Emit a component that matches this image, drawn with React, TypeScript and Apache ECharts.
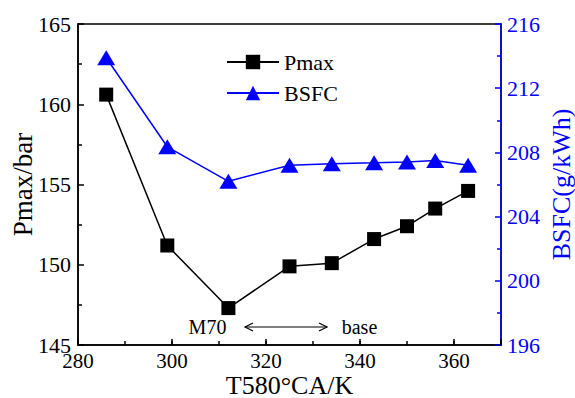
import React, { useEffect, useRef } from "react";
import * as echarts from "echarts";

const temperatures = [286, 299, 312, 325, 334, 343, 350, 356, 363];
const pmaxValues = [160.6, 151.2, 147.3, 149.9, 150.1, 151.6, 152.4, 153.5, 154.6];
const bsfcValues = [213.9, 208.35, 206.2, 207.2, 207.3, 207.35, 207.4, 207.5, 207.2];
const seriesNames = ["Pmax", "BSFC"];
const xAxisName = "T580°CA/K";
const yLeftName = "Pmax/bar";
const yRightName = "BSFC(g/kWh)";
const annotationLeft = "M70";
const annotationRight = "base";

const FONT = "Liberation Serif, serif";
const BLUE = "#0000ff";
const BLACK = "#000000";

export default function App() {
  const ref = useRef<HTMLDivElement>(null);
  useEffect(() => {
    if (!ref.current) return;
    const chart = echarts.init(ref.current, undefined, { renderer: "svg" });
    const pmaxData = temperatures.map((t, i) => [t, pmaxValues[i]]);
    const bsfcData = temperatures.map((t, i) => [t, bsfcValues[i]]);
    chart.setOption({
      animation: false,
      backgroundColor: "#ffffff",
      textStyle: { fontFamily: FONT },
      grid: {
        left: 78,
        right: 74,
        top: 24,
        bottom: 53,
        outerBoundsMode: "none",
        containLabel: false,
        show: true,
        borderColor: BLACK,
        borderWidth: 1.5,
        backgroundColor: "transparent",
      },
      legend: {
        orient: "vertical",
        left: 221,
        top: 46,
        itemWidth: 52,
        itemHeight: 18,
        itemGap: 9,
        data: seriesNames,
        textStyle: { fontFamily: FONT, fontSize: 22, color: BLACK },
      },
      xAxis: [
        {
          type: "value",
          min: 280,
          max: 370,
          interval: 20,
          position: "bottom",
          name: xAxisName,
          nameLocation: "middle",
          nameGap: 28,
          nameMoveOverlap: false,
          nameTextStyle: { fontFamily: FONT, fontSize: 26, color: BLACK, lineHeight: 24 },
          axisLine: { show: true, lineStyle: { color: BLACK, width: 1.5 } },
          axisTick: { show: true, inside: true, length: 6, lineStyle: { color: BLACK, width: 1.5 } },
          axisLabel: {
            fontFamily: FONT,
            fontSize: 21,
            lineHeight: 20,
            color: BLACK,
            margin: 6,
            formatter: (v: number) => (v === 370 ? "" : String(v)),
          },
          splitLine: { show: false },
        },
        {
          type: "value",
          min: 280,
          max: 370,
          interval: 10,
          position: "bottom",
          axisLine: { show: false },
          axisTick: { show: true, inside: true, length: 4, lineStyle: { color: BLACK, width: 1.5 } },
          axisLabel: { show: false },
          splitLine: { show: false },
        },
      ],
      yAxis: [
        {
          type: "value",
          min: 145,
          max: 165,
          interval: 5,
          position: "left",
          name: yLeftName,
          nameLocation: "middle",
          nameRotate: 90,
          nameGap: 42,
          nameMoveOverlap: false,
          nameTextStyle: { fontFamily: FONT, fontSize: 27, color: BLACK },
          axisLine: { show: true, lineStyle: { color: BLACK, width: 1.5 } },
          axisTick: { show: true, inside: true, length: 6, lineStyle: { color: BLACK, width: 1.5 } },
          minorTick: { show: true, splitNumber: 2, length: 4, lineStyle: { color: BLACK, width: 1.5 } },
          axisLabel: { fontFamily: FONT, fontSize: 22, color: BLACK, margin: 7 },
          splitLine: { show: false },
        },
        {
          type: "value",
          min: 196,
          max: 216,
          interval: 4,
          position: "right",
          name: yRightName,
          nameLocation: "middle",
          nameRotate: 90,
          nameGap: 47,
          nameMoveOverlap: false,
          nameTextStyle: { fontFamily: FONT, fontSize: 26, color: BLUE },
          axisLine: { show: true, lineStyle: { color: BLUE, width: 1.5 } },
          axisTick: { show: true, inside: true, length: 6, lineStyle: { color: BLUE, width: 1.5 } },
          minorTick: { show: true, splitNumber: 2, length: 4, lineStyle: { color: BLUE, width: 1.5 } },
          axisLabel: { fontFamily: FONT, fontSize: 22, color: BLUE, margin: 6 },
          splitLine: { show: false },
        },
      ],
      series: [
        {
          name: seriesNames[0],
          type: "line",
          xAxisIndex: 0,
          yAxisIndex: 0,
          data: pmaxData,
          symbol: "rect",
          symbolSize: 14,
          lineStyle: { color: BLACK, width: 1.5 },
          itemStyle: { color: BLACK },
        },
        {
          name: seriesNames[1],
          type: "line",
          xAxisIndex: 0,
          yAxisIndex: 1,
          data: bsfcData,
          symbol: "triangle",
          symbolSize: [18, 15],
          lineStyle: { color: BLUE, width: 1.5 },
          itemStyle: { color: BLUE },
        },
      ],
      graphic: [
        {
          type: "text",
          x: 207.5,
          y: 327,
          style: {
            text: annotationLeft,
            fontFamily: FONT,
            fontSize: 20,
            fill: BLACK,
            align: "center",
            verticalAlign: "middle",
          },
        },
        {
          type: "text",
          x: 359.5,
          y: 327,
          style: {
            text: annotationRight,
            fontFamily: FONT,
            fontSize: 20,
            fill: BLACK,
            align: "center",
            verticalAlign: "middle",
          },
        },
        {
          type: "line",
          shape: { x1: 245, y1: 327, x2: 327, y2: 327 },
          style: { stroke: BLACK, lineWidth: 1.2 },
        },
        {
          type: "polyline",
          shape: { points: [[253, 323], [245, 327], [253, 331]] },
          style: { stroke: BLACK, lineWidth: 1.2, fill: "none" },
        },
        {
          type: "polyline",
          shape: { points: [[319, 323], [327, 327], [319, 331]] },
          style: { stroke: BLACK, lineWidth: 1.2, fill: "none" },
        },
      ],
    });
    return () => chart.dispose();
  }, []);
  return (
    <div
      ref={ref}
      style={{ position: "absolute", left: 0, top: 0, width: 575, height: 398 }}
    />
  );
}
